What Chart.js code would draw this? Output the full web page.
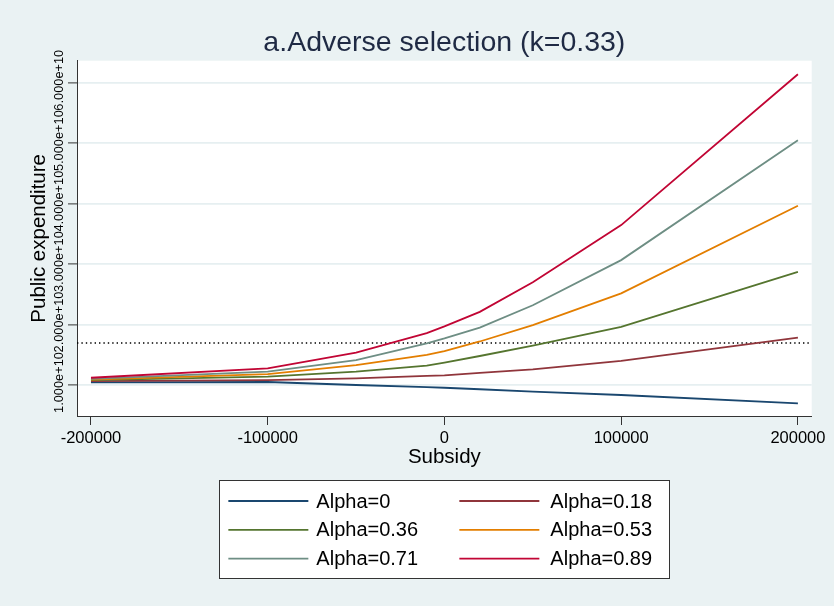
<!DOCTYPE html>
<html>
<head>
<meta charset="utf-8">
<title>a.Adverse selection (k=0.33)</title>
<script src="https://cdn.jsdelivr.net/npm/chart.js@4.4.1/dist/chart.umd.min.js"></script>
<style>
  html, body { margin: 0; padding: 0; background: #eaf2f3; }
  #wrap { width: 834px; height: 606px; }
  canvas { display: block; }
</style>
</head>
<body>
<div id="wrap"><canvas id="chart" width="834" height="606"></canvas></div>
<script>
// Subsidy levels (x) and public expenditure for each alpha (y)
const subsidy = [-200000, -100000, -50000, -10000, 0, 20000, 50000, 100000, 200000];

const alpha000 = [1.045e10, 1.050e10, 1.000e10, 0.965e10, 0.955e10, 0.930e10, 0.890e10, 0.835e10, 0.697e10];
const alpha018 = [1.065e10, 1.080e10, 1.110e10, 1.150e10, 1.160e10, 1.200e10, 1.260e10, 1.400e10, 1.785e10];
const alpha036 = [1.080e10, 1.140e10, 1.220e10, 1.320e10, 1.370e10, 1.480e10, 1.650e10, 1.960e10, 2.873e10];
const alpha053 = [1.090e10, 1.180e10, 1.330e10, 1.500e10, 1.560e10, 1.720e10, 1.990e10, 2.515e10, 3.964e10];
const alpha071 = [1.100e10, 1.220e10, 1.410e10, 1.690e10, 1.770e10, 1.950e10, 2.320e10, 3.066e10, 5.050e10];
const alpha089 = [1.120e10, 1.276e10, 1.534e10, 1.860e10, 1.970e10, 2.210e10, 2.700e10, 3.645e10, 6.140e10];

const seriesLabels = ['Alpha=0', 'Alpha=0.18', 'Alpha=0.36', 'Alpha=0.53', 'Alpha=0.71', 'Alpha=0.89'];
const seriesValues = [alpha000, alpha018, alpha036, alpha053, alpha071, alpha089];
const seriesColors = ['#1a476f', '#90353b', '#55752f', '#e37e00', '#6e8e84', '#c10534'];

// Horizontal dotted reference level
const referenceLevel = 1.695e10;

// Axis ticks
const xTickValues = [-200000, -100000, 0, 100000, 200000];
const xTickLabels = ['-200000', '-100000', '0', '100000', '200000'];
const yTickValues = [1e10, 2e10, 3e10, 4e10, 5e10, 6e10];
const yTickLabels = ['1.000e+10', '2.000e+10', '3.000e+10', '4.000e+10', '5.000e+10', '6.000e+10'];

// Axis ranges
const xAxisMin = -207900, xAxisMax = 207800;
const yAxisMin = 0.4876e10, yAxisMax = 6.364e10;

const FONT = '"Liberation Sans", Arial, Helvetica, sans-serif';
Chart.defaults.font.family = FONT;
Chart.defaults.color = '#000';

const lineSets = seriesValues.map((vals, i) => ({
  label: seriesLabels[i],
  data: subsidy.map((x, j) => ({ x: x, y: vals[j] })),
  borderColor: seriesColors[i],
  backgroundColor: seriesColors[i],
  borderWidth: 1.8,
  pointRadius: 0,
  tension: 0,
  fill: false,
  order: seriesValues.length - i,
  isSeries: true
}));

const refSet = {
  label: 'reference',
  data: [{ x: xAxisMin, y: referenceLevel }, { x: xAxisMax, y: referenceLevel }],
  borderColor: '#000',
  borderWidth: 1.4,
  borderDash: [1.4, 3],
  pointRadius: 0,
  fill: false,
  order: 100
};

// Background fills, rotated y tick labels and the boxed two-column legend
const decor = {
  id: 'decor',
  beforeDraw(chart) {
    const { ctx, chartArea: a } = chart;
    ctx.save();
    ctx.fillStyle = '#eaf2f3';
    ctx.fillRect(0, 0, chart.width, chart.height);
    ctx.fillStyle = '#ffffff';
    ctx.fillRect(a.left, a.top, a.right - a.left, a.bottom - a.top);
    ctx.restore();
  },
  afterDraw(chart) {
    const { ctx, chartArea: a } = chart;
    const yScale = chart.scales.y;

    // y tick labels, rotated to read upward
    ctx.save();
    ctx.fillStyle = '#000';
    ctx.font = '12.8px ' + FONT;
    ctx.textAlign = 'center';
    ctx.textBaseline = 'middle';
    yTickValues.forEach((v, i) => {
      const py = yScale.getPixelForValue(v) - 2.5;
      ctx.save();
      ctx.translate(59.5, py);
      ctx.rotate(-Math.PI / 2);
      ctx.fillText(yTickLabels[i], 0, 0);
      ctx.restore();
    });
    ctx.restore();

    // legend box
    const cx = (a.left + a.right) / 2;
    const boxW = 450, boxH = 98;
    const boxL = cx - boxW / 2, boxT = a.bottom + 64;
    ctx.save();
    ctx.fillStyle = '#ffffff';
    ctx.fillRect(boxL, boxT, boxW, boxH);
    ctx.strokeStyle = '#333';
    ctx.lineWidth = 1;
    ctx.strokeRect(Math.round(boxL) + 0.5, Math.round(boxT) + 0.5, boxW, boxH);
    ctx.font = '20px ' + FONT;
    ctx.textBaseline = 'middle';
    ctx.textAlign = 'left';
    const series = chart.data.datasets.filter(d => d.isSeries);
    series.forEach((d, i) => {
      const col = i % 2, row = Math.floor(i / 2);
      const y = boxT + 21 + row * 28.8;
      const lx = boxL + 9 + col * 231;
      ctx.strokeStyle = d.borderColor;
      ctx.lineWidth = 1.8;
      ctx.beginPath();
      ctx.moveTo(lx, y);
      ctx.lineTo(lx + 80, y);
      ctx.stroke();
      ctx.fillStyle = '#000';
      ctx.fillText(d.label, lx + 88 + col * 3, y + 1);
    });
    ctx.restore();
  }
};

new Chart(document.getElementById('chart'), {
  type: 'line',
  data: { datasets: [...lineSets, refSet] },
  options: {
    responsive: false,
    animation: false,
    devicePixelRatio: 1,
    layout: { padding: { left: 0, right: 22.3, top: 0, bottom: 0 } },
    plugins: {
      legend: { display: false },
      tooltip: { enabled: false },
      title: {
        display: true,
        text: 'a.Adverse selection (k=0.33)',
        color: '#1f2a44',
        font: { size: 28.5, weight: 'normal', family: FONT },
        padding: { top: 26.3, bottom: 0.2 },
        fullSize: false
      }
    },
    scales: {
      x: {
        type: 'linear',
        min: xAxisMin,
        max: xAxisMax,
        afterBuildTicks: s => { s.ticks = xTickValues.map(v => ({ value: v })); },
        afterFit: s => { s.height = 190; },
        ticks: {
          autoSkip: false,
          maxRotation: 0,
          padding: 4,
          color: '#000',
          font: { size: 16.5 },
          callback: v => xTickLabels[xTickValues.indexOf(v)]
        },
        grid: { drawOnChartArea: false, drawTicks: true, tickLength: 9, tickColor: '#333', tickWidth: 1 },
        border: { display: true, color: '#333', width: 1 },
        title: {
          display: true,
          text: 'Subsidy',
          color: '#000',
          font: { size: 20.5 },
          padding: { top: 0, bottom: 136 }
        }
      },
      y: {
        type: 'linear',
        min: yAxisMin,
        max: yAxisMax,
        afterBuildTicks: s => { s.ticks = yTickValues.map(v => ({ value: v })); },
        afterFit: s => { s.width = 77; },
        ticks: { display: false },
        grid: { color: '#e6eff1', lineWidth: 1.8, drawTicks: true, tickLength: 9, tickColor: '#333', tickWidth: 1 },
        border: { display: true, color: '#333', width: 1 },
        title: {
          display: true,
          text: 'Public expenditure',
          color: '#000',
          font: { size: 20.5 },
          padding: { top: 26.7, bottom: 0 }
        }
      }
    }
  },
  plugins: [decor]
});
</script>
</body>
</html>
